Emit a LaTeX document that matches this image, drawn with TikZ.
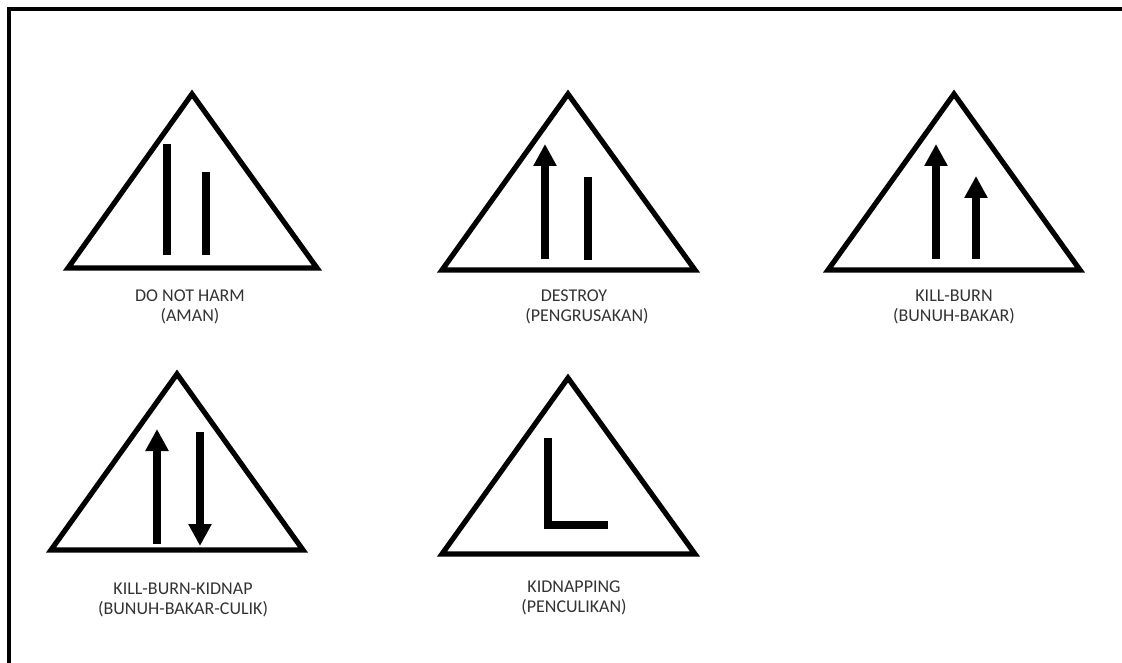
\documentclass[tikz,border=0pt]{standalone}
\usepackage{fontspec}
\setmainfont{Carlito}
\usetikzlibrary{arrows.meta}
\begin{document}
\begin{tikzpicture}[x=1pt,y=-1pt,
  frame/.style={line width=4pt},
  tri/.style={line width=5.2pt,line join=miter},
  bar/.style={line width=7.5pt},
  arr/.style={line width=7.5pt,-{Triangle[width=22pt,length=22pt]}},
  lbl/.style={align=center,font=\fontsize{18}{20}\selectfont,text=black!80,inner sep=0pt}]
\useasboundingbox (0,0) rectangle (1122,663);
% frame (top and left edges)
\coordinate (fa) at (1122,9);
\coordinate (fb) at (9,9);
\coordinate (fc) at (9,663);
\draw[frame,line join=miter] (fa) -- (fb) -- (fc);

% Triangle 1: DO NOT HARM
\coordinate (t1a) at (192,94);
\coordinate (t1l) at (68,268);
\coordinate (t1r) at (317,268);
\draw[tri] (t1a) -- (t1l) -- (t1r) -- cycle;
\coordinate (b1t) at (167,144); \coordinate (b1b) at (167,255);
\coordinate (b2t) at (206,172); \coordinate (b2b) at (206,255);
\draw[bar] (b1b) -- (b1t);
\draw[bar] (b2b) -- (b2t);
\node[lbl] (l1) at (190,307) {DO NOT HARM\\(AMAN)};

% Triangle 2: DESTROY
\coordinate (t2a) at (568,94);
\coordinate (t2l) at (442,270);
\coordinate (t2r) at (695,270);
\draw[tri] (t2a) -- (t2l) -- (t2r) -- cycle;
\coordinate (a2b) at (545,259); \coordinate (a2t) at (545,144);
\coordinate (b3t) at (588,177); \coordinate (b3b) at (588,260);
\draw[arr] (a2b) -- (a2t);
\draw[bar] (b3b) -- (b3t);
\node[lbl] (l2) at (587,307) {DESTROY\hspace*{26pt}\\(PENGRUSAKAN)};

% Triangle 3: KILL-BURN
\coordinate (t3a) at (954,94);
\coordinate (t3l) at (828,270);
\coordinate (t3r) at (1080,270);
\draw[tri] (t3a) -- (t3l) -- (t3r) -- cycle;
\coordinate (a3b) at (936,259); \coordinate (a3t) at (936,144);
\coordinate (a4b) at (976,259); \coordinate (a4t) at (976,176);
\draw[arr] (a3b) -- (a3t);
\draw[arr] (a4b) -- (a4t);
\node[lbl] (l3) at (954,307) {KILL-BURN\\(BUNUH-BAKAR)};

% Triangle 4: KILL-BURN-KIDNAP
\coordinate (t4a) at (177,374);
\coordinate (t4l) at (51,550);
\coordinate (t4r) at (303,550);
\draw[tri] (t4a) -- (t4l) -- (t4r) -- cycle;
\coordinate (a5b) at (157,544); \coordinate (a5t) at (157,429);
\coordinate (a6t) at (200,432); \coordinate (a6b) at (200,546);
\draw[arr] (a5b) -- (a5t);
\draw[arr] (a6t) -- (a6b);
\node[lbl] (l4) at (183,600) {KILL-BURN-KIDNAP\\(BUNUH-BAKAR-CULIK)};

% Triangle 5: KIDNAPPING
\coordinate (t5a) at (568,378);
\coordinate (t5l) at (442,554);
\coordinate (t5r) at (695,554);
\draw[tri] (t5a) -- (t5l) -- (t5r) -- cycle;
\coordinate (k1) at (548,438); \coordinate (k2) at (548,525); \coordinate (k3) at (608,525);
\draw[bar,line join=miter] (k1) -- (k2) -- (k3);
\node[lbl] (l5) at (574,598) {KIDNAPPING\\(PENCULIKAN)};
\end{tikzpicture}
\end{document}
